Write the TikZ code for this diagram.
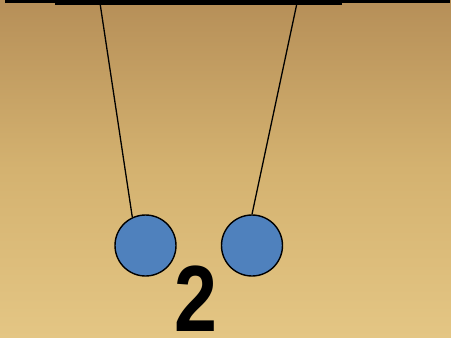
\documentclass[tikz,border=0pt]{standalone}
\usepackage{fontspec}
\setmainfont{Liberation Sans}
\definecolor{parchtop}{RGB}{182,143,88}
\definecolor{parchmid}{RGB}{212,178,112}
\definecolor{parchbot}{RGB}{228,198,132}
\definecolor{ballblue}{RGB}{79,129,189}
\begin{document}
\begin{tikzpicture}[x=1pt,y=-1pt,
  ball/.style={circle,draw=black,line width=1.4pt,fill=ballblue,minimum size=61pt,inner sep=0pt},
  string/.style={line width=1.3pt,black}]
\useasboundingbox (0,0) rectangle (451,338);
\shade[top color=parchtop,bottom color=parchbot,middle color=parchmid] (0,0) rectangle (451,338);
% top bar
\fill[black] (5,0) rectangle (450,3);
\fill[black] (55,0) rectangle (342,5);
% anchors
\coordinate (a1) at (100,3);
\coordinate (a2) at (297,3);
\node[ball] (b1) at (145.5,245.5) {};
\node[ball] (b2) at (252,245.5) {};
\draw[string] (a1) -- (b1.115);
\draw[string] (a2) -- (b2.north);
\node[inner sep=0pt,text depth=0pt,text height=66pt,anchor=south,xscale=0.82] (two) at (195.5,332) {\fontsize{94}{94}\selectfont\bfseries 2};
\end{tikzpicture}
\end{document}
